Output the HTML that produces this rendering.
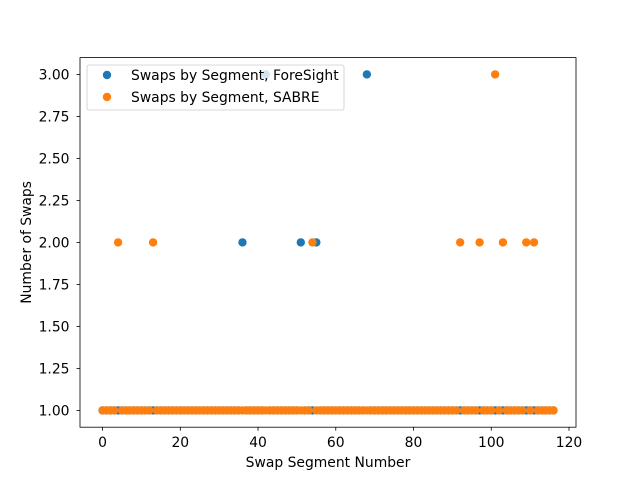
<!DOCTYPE html>
<html><head><meta charset="utf-8"><style>
body{margin:0;background:#fff;}
svg{display:block;font-family:"DejaVu Sans","Liberation Sans",sans-serif;}
</style></head><body>
<svg id="chart" width="640" height="480">
<rect width="640" height="480" fill="#fff"/>
<g id="marks"></g>
<g id="axes"></g>
</svg>
<script>
const N = 117;
const foresightHigh = {36:2, 42:3, 51:2, 55:2, 68:3};
const sabreHigh = {4:2, 13:2, 54:2, 92:2, 97:2, 101:3, 103:2, 109:2, 111:2};
const xTicks = [0,20,40,60,80,100,120];
const yTicks = [1.00,1.25,1.50,1.75,2.00,2.25,2.50,2.75,3.00];
const foresight = [];
const sabre = [];
for (let i=0;i<N;i++){ foresight.push(foresightHigh[i]||1); sabre.push(sabreHigh[i]||1); }

const L=80,R=576,T=57.6,B=427.2;
const xmin=-5.8,xmax=121.8,ymin=0.9,ymax=3.1;
const X=v=>L+(v-xmin)/(xmax-xmin)*(R-L);
const Y=v=>B-(v-ymin)/(ymax-ymin)*(B-T);
const NS="http://www.w3.org/2000/svg";
const FS=13.9;
function mk(tag,attrs,parent){const e=document.createElementNS(NS,tag);for(const k in attrs)e.setAttribute(k,attrs[k]);parent.appendChild(e);return e;}
const marks=document.getElementById('marks'), axes=document.getElementById('axes');
foresight.forEach((v,i)=>{const c=mk('circle',{cx:X(i),cy:Y(v),r:4.2,fill:'#1f77b4'},marks);

});
sabre.forEach((v,i)=>{const c=mk('circle',{cx:X(i),cy:Y(v),r:4.2,fill:'#ff7f0e'},marks);

});
const frame=mk('rect',{x:L,y:T,width:R-L,height:B-T,fill:'none',stroke:'#000','stroke-width':0.8},axes);


xTicks.forEach(t=>{const x=X(t);mk('line',{x1:x,x2:x,y1:B,y2:B+3.5,stroke:'#000','stroke-width':0.8},axes);
const tx=mk('text',{x:x,y:B+20,'font-size':FS,'text-anchor':'middle'},axes);tx.textContent=t;

});
yTicks.forEach(t=>{const y=Y(t);mk('line',{x1:L-3.5,x2:L,y1:y,y2:y,stroke:'#000','stroke-width':0.8},axes);
const tx=mk('text',{x:L-10.5,y:y+5,'font-size':FS,'text-anchor':'end'},axes);tx.textContent=t.toFixed(2);

});
const xl=mk('text',{x:(L+R)/2,y:467,'font-size':FS,'text-anchor':'middle'},axes);xl.textContent='Swap Segment Number';


const yl=mk('text',{x:0,y:0,'font-size':FS,'text-anchor':'middle',transform:`translate(31,${(T+B)/2}) rotate(-90)`},axes);yl.textContent='Number of Swaps';


const lg=mk('g',{},axes);


mk('rect',{x:87,y:65,width:257,height:45,rx:2,fill:'#fff','fill-opacity':0.8,stroke:'#ccc','stroke-width':0.8},lg);
[['#1f77b4','Swaps by Segment, ForeSight',75],['#ff7f0e','Swaps by Segment, SABRE',97]].forEach(([c,t,y])=>{
const d=mk('circle',{cx:107,cy:y,r:4.2,fill:c},lg);


const tx=mk('text',{x:131,y:y+5,'font-size':FS},lg);tx.textContent=t;

});
</script>
</body></html>
